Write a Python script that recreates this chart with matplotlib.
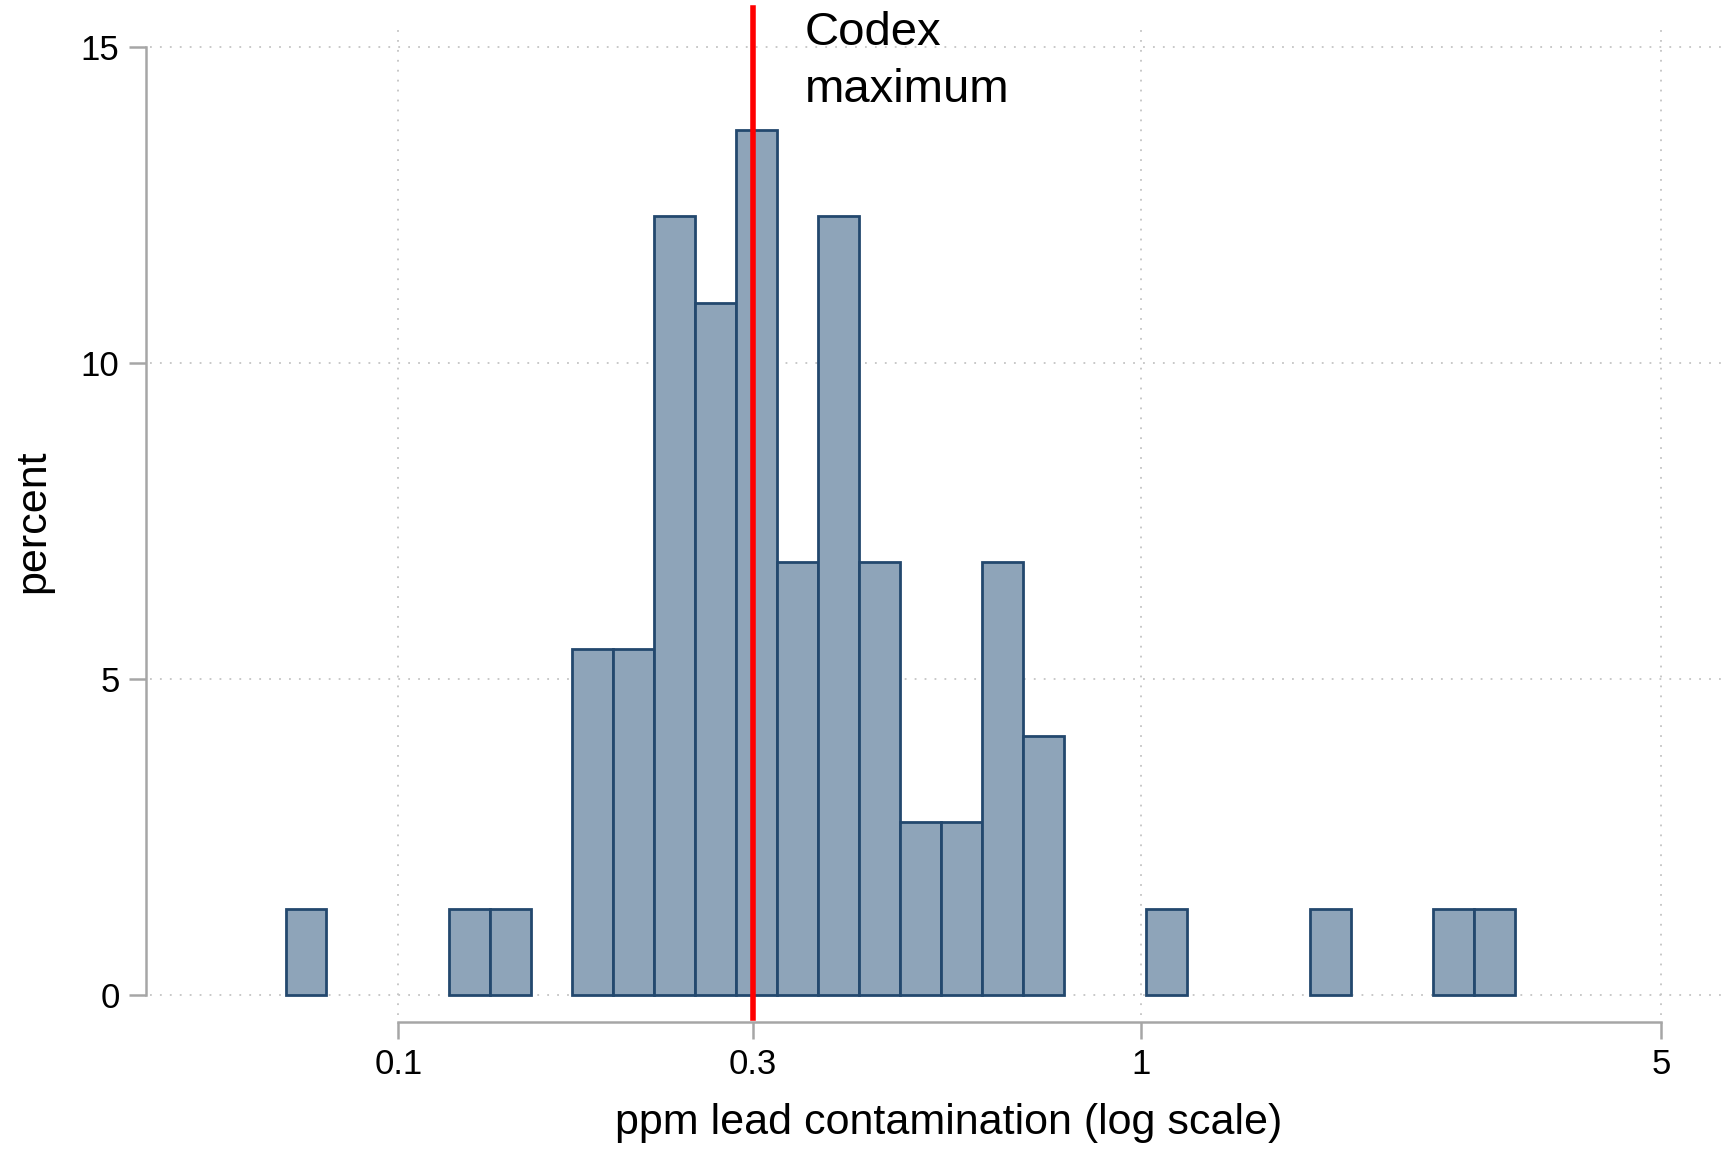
import numpy as np
import matplotlib
matplotlib.use('Agg')
import matplotlib.pyplot as plt

# Histogram of log10(ppm lead), 30 equal bins between min and max of the data
LOG_MIN = -1.152
LOG_MAX = 0.502
COUNTS = [1, 0, 0, 0, 1, 1, 0, 4, 4, 9, 8, 10, 5, 9, 5,
          2, 2, 5, 3, 0, 0, 1, 0, 0, 0, 1, 0, 0, 1, 1]
N_OBS = 73
CODEX_MAX = 0.3

X_TICKS = [0.1, 0.3, 1, 5]
X_TICK_LABELS = ['0.1', '0.3', '1', '5']
Y_TICKS = [0, 5, 10, 15]

FILL = '#8ea4b9'
EDGE = '#23486e'
AXIS_GREY = '#a6a6a6'
GRID_GREY = '#c4c4c4'

plt.rcParams['font.family'] = ['Liberation Sans', 'DejaVu Sans']

fig = plt.figure(figsize=(17.21, 11.49), dpi=100)
ax = fig.add_axes([0.0874, 0.1165, 0.9126, 0.8634])

# bin edges back in ppm, empty bins are not drawn
edges = 10 ** np.linspace(LOG_MIN, LOG_MAX, len(COUNTS) + 1)
counts = np.array(COUNTS)
pct = counts / N_OBS * 100
keep = counts > 0
ax.bar(edges[:-1][keep], pct[keep], width=np.diff(edges)[keep], align='edge',
       color=FILL, edgecolor=EDGE, linewidth=2, zorder=3)

ax.set_xscale('log')
ax.set_xlim(10 ** -1.3338, 10 ** 0.7799)
ax.set_ylim(-0.3125, 15.382)

# dotted grid lines
for y in Y_TICKS:
    ax.axhline(y, color=GRID_GREY, lw=1.3, ls=(0, (1, 4.5)), zorder=1)
for x in X_TICKS:
    ax.axvline(x, color=GRID_GREY, lw=1.3, ls=(0, (1, 4.5)), zorder=1)

# Codex maximum line
ax.plot([CODEX_MAX, CODEX_MAX], [-0.365, 15.625], color='red', lw=4,
        clip_on=False, zorder=5)
ax.text(0.352, 15.58, 'Codex\nmaximum', fontsize=34, va='top', ha='left',
        linespacing=1.4)

ax.set_xticks(X_TICKS)
ax.set_xticklabels(X_TICK_LABELS)
ax.xaxis.set_minor_locator(matplotlib.ticker.NullLocator())
ax.set_yticks(Y_TICKS)

for side in ['top', 'right']:
    ax.spines[side].set_visible(False)
ax.spines['left'].set_position(('outward', 3.2))
ax.spines['left'].set_bounds(0, 15)
ax.spines['bottom'].set_position(('outward', 4.7))
ax.spines['bottom'].set_bounds(0.1, 5)
for side in ['left', 'bottom']:
    ax.spines[side].set_color(AXIS_GREY)
    ax.spines[side].set_linewidth(1.8)

ax.tick_params(axis='both', color=AXIS_GREY, width=1.8, length=12,
               labelsize=25, pad=7)
ax.set_facecolor('none')

fig.text(864 / 1568, 1 - 1023 / 1047, 'ppm lead contamination (log scale)',
         fontsize=31, ha='center', va='center')
fig.text(30 / 1568, 1 - 475 / 1047, 'percent', fontsize=31, rotation=90,
         ha='center', va='center')

fig.savefig('out.png', dpi=100)
